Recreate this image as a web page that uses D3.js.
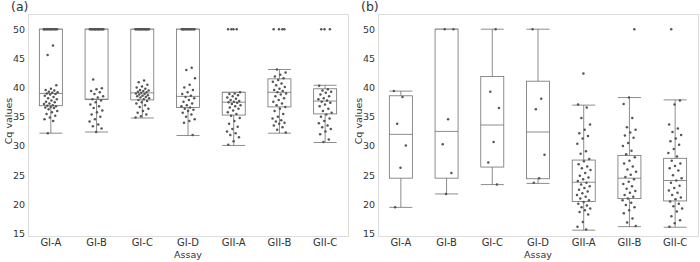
<!DOCTYPE html>
<html lang="en">
<head>
    <meta charset="UTF-8">
    <title>Cq values by assay</title>
    <script src="https://d3js.org/d3.v7.min.js"></script>
    <style>
        body { margin: 0; background: #fff; }
        svg { display: block; font-family: "DejaVu Sans", Verdana, sans-serif; }
    </style>
</head>
<body>
<script>
    var assays = ["GI-A", "GI-B", "GI-C", "GI-D", "GII-A", "GII-B", "GII-C"]
    var yTicks = [15, 20, 25, 30, 35, 40, 45, 50]

    // box stats for panel (a): [lower whisker, q1, median, q3, upper whisker]
    var statsA = [
        [32.2, 36.9, 39.0, 50, 50],
        [32.4, 38.0, 38.0, 50, 50],
        [34.8, 37.9, 39.1, 50, 50],
        [31.8, 36.6, 38.5, 50, 50],
        [30.1, 35.3, 37.5, 39.2, 39.2],
        [32.2, 36.7, 39.2, 41.5, 43.1],
        [30.6, 35.5, 37.7, 39.8, 40.4]
    ]
    // box stats for panel (b)
    var statsB = [
        [19.5, 24.5, 32.0, 38.6, 39.4],
        [21.8, 24.5, 32.5, 50, 50],
        [23.4, 26.4, 33.6, 41.9, 50],
        [23.6, 24.4, 32.4, 41.1, 50],
        [15.6, 20.5, 23.8, 27.6, 37.0],
        [16.2, 21.0, 24.5, 28.4, 38.3],
        [16.1, 20.6, 24.1, 27.9, 37.9]
    ]

    var ptsA_GIA = [50, 50, 50, 50, 50, 50, 50, 50, 50, 50, 50, 50, 50, 50, 47.2, 45.6, 40.4, 39.8, 39.6, 39.5, 39.3, 39.2, 39.1, 39.0, 38.9, 38.8, 38.6, 38.4, 38.2, 38.0, 37.8, 37.6, 37.5, 37.3, 37.2, 37.0, 36.9, 36.8, 36.7, 36.6, 36.5, 36.3, 36.0, 35.8, 35.5, 35.2, 34.9, 34.6, 34.3, 32.2]
    var ptsA_GIB = [50, 50, 50, 50, 50, 50, 50, 50, 50, 50, 50, 50, 50, 50, 50, 50, 41.4, 39.9, 39.7, 39.4, 39.2, 38.9, 38.5, 38.3, 38.0, 37.8, 37.5, 37.1, 36.8, 36.5, 36.1, 35.8, 35.4, 35.0, 34.6, 34.2, 33.7, 33.4, 33.0, 32.4]
    var ptsA_GIC = [50, 50, 50, 50, 50, 50, 50, 50, 50, 50, 50, 50, 50, 50, 50, 50, 41.2, 40.9, 40.5, 40.2, 40.0, 39.8, 39.6, 39.5, 39.4, 39.3, 39.2, 39.1, 39.0, 38.9, 38.8, 38.7, 38.6, 38.5, 38.4, 38.3, 38.2, 38.0, 37.9, 37.7, 37.5, 37.3, 37.0, 36.7, 36.4, 36.0, 35.7, 35.4, 35.1, 34.9]
    var ptsA_GID = [50, 50, 50, 50, 50, 50, 50, 50, 50, 50, 50, 50, 50, 50, 43.4, 43.0, 41.6, 40.5, 40.0, 39.6, 39.2, 38.9, 38.6, 38.4, 38.2, 37.9, 37.6, 37.3, 37.0, 36.8, 36.6, 36.4, 36.2, 36.0, 35.7, 35.4, 35.0, 34.6, 34.3, 34.0, 31.9]
    var ptsA_GIIA = [50, 50, 50, 50, 39.2, 39.0, 38.9, 38.7, 38.5, 38.3, 38.1, 37.9, 37.7, 37.6, 37.5, 37.4, 37.2, 37.0, 36.8, 36.6, 36.4, 36.1, 35.8, 35.5, 35.2, 34.8, 34.3, 33.8, 33.3, 32.9, 32.5, 32.2, 31.9, 31.5, 30.8, 30.2]
    var ptsA_GIIB = [50, 50, 50, 50, 43.1, 42.6, 42.2, 41.9, 41.6, 41.3, 41.0, 40.7, 40.4, 40.1, 39.8, 39.6, 39.4, 39.2, 39.0, 38.8, 38.5, 38.2, 37.9, 37.6, 37.3, 37.0, 36.7, 36.4, 36.0, 35.5, 35.0, 34.7, 34.4, 34.2, 34.0, 33.8, 33.5, 33.2, 32.8, 32.3]
    var ptsA_GIIC = [50, 50, 50, 40.3, 39.7, 39.5, 39.3, 39.1, 38.8, 38.5, 38.2, 38.0, 37.8, 37.6, 37.4, 37.1, 36.8, 36.4, 36.0, 35.7, 35.4, 35.0, 34.7, 34.3, 33.9, 33.5, 33.2, 32.9, 32.5, 32.0, 31.1, 30.7]

    var ptsB_GIA = [39.4, 38.4, 33.8, 30.1, 26.3, 19.5]
    var ptsB_GIB = [50, 50, 34.6, 30.3, 25.4, 21.8]
    var ptsB_GIC = [50, 39.3, 36.5, 30.7, 27.2, 23.4]
    var ptsB_GID = [50, 38.1, 36.3, 28.5, 24.5, 23.7]
    var ptsB_GIIA = [42.4, 37.1, 36.6, 34.8, 33.7, 32.8, 32.2, 31.7, 31.3, 30.4, 29.1, 28.7, 27.8, 27.4, 26.9, 26.5, 26.2, 25.9, 25.4, 24.9, 24.6, 24.3, 24.0, 23.7, 23.4, 23.1, 22.8, 22.5, 22.2, 21.9, 21.6, 21.3, 21.0, 20.7, 20.4, 20.1, 19.8, 19.5, 19.3, 19.0, 18.7, 18.3, 17.0, 16.2, 15.7]
    var ptsB_GIIB = [50, 38.3, 37.2, 34.8, 33.2, 32.8, 32.3, 31.8, 31.4, 30.5, 30.0, 29.2, 28.6, 28.1, 27.5, 27.0, 26.5, 26.0, 25.6, 25.1, 24.7, 24.3, 23.9, 23.5, 23.1, 22.7, 22.3, 22.0, 21.6, 21.3, 21.0, 20.7, 20.3, 19.9, 19.5, 19.0, 18.5, 17.6, 16.9, 16.3]
    var ptsB_GIIC = [50, 37.8, 37.1, 33.7, 33.0, 32.4, 31.9, 31.3, 30.8, 30.2, 29.5, 28.8, 28.2, 27.5, 27.0, 26.6, 26.2, 25.8, 25.0, 24.5, 24.1, 23.7, 23.2, 22.8, 22.4, 22.0, 21.6, 21.2, 20.9, 20.5, 20.1, 19.7, 19.3, 18.8, 18.0, 17.3, 16.8, 16.2]

    var pointsA = [ptsA_GIA, ptsA_GIB, ptsA_GIC, ptsA_GID, ptsA_GIIA, ptsA_GIIB, ptsA_GIIC]
    var pointsB = [ptsB_GIA, ptsB_GIB, ptsB_GIC, ptsB_GID, ptsB_GIIA, ptsB_GIIB, ptsB_GIIC]

    var width = 700, height = 262
    var svg = d3.select("body").append("svg")
        .attr("width", width)
        .attr("height", height)

    var frameColor = "#dcdcdc"
    var boxColor = "#707070"
    var dotColor = "#555555"
    var textColor = "#333333"

    function drawPanel(left, label, stats, points) {
        var right = left + 320
        var top = 14, bottom = 236

        var x = d3.scaleBand().domain(assays).range([left, right])
        var y = d3.scaleLinear().domain([14.6, 52.6]).range([bottom, top])

        var g = svg.append("g")

        g.append("rect")
            .attr("x", left + 0.5)
            .attr("y", top + 0.5)
            .attr("width", right - left)
            .attr("height", bottom - top)
            .attr("fill", "none")
            .attr("stroke", frameColor)

        // y tick labels
        g.selectAll(".ytick").data(yTicks).enter().append("text")
            .attr("x", left - 3)
            .attr("y", function (d) { return y(d) })
            .attr("dy", "0.35em")
            .attr("text-anchor", "end")
            .attr("font-size", "9.5px")
            .attr("fill", textColor)
            .text(function (d) { return d })

        // x tick labels
        g.selectAll(".xtick").data(assays).enter().append("text")
            .attr("x", function (d) { return x(d) + x.bandwidth() / 2 })
            .attr("y", 246)
            .attr("text-anchor", "middle")
            .attr("font-size", "10px")
            .attr("fill", textColor)
            .text(function (d) { return d })

        g.append("text")
            .attr("x", (left + right) / 2)
            .attr("y", 257.5)
            .attr("text-anchor", "middle")
            .attr("font-size", "9.5px")
            .attr("fill", textColor)
            .text("Assay")

        g.append("text")
            .attr("transform", "translate(" + (left - 16) + "," + ((top + bottom) / 2 - 4) + ") rotate(-90)")
            .attr("text-anchor", "middle")
            .attr("font-size", "9.5px")
            .attr("fill", textColor)
            .text("Cq values")

        g.append("text")
            .attr("x", left - 17)
            .attr("y", 11)
            .attr("font-size", "12.5px")
            .attr("fill", textColor)
            .text(label)

        var boxW = 23
        assays.forEach(function (a, i) {
            var cx = x(a) + x.bandwidth() / 2
            var s = stats[i]
            var bg = g.append("g")
                .attr("fill", "none")
                .attr("stroke", boxColor)
                .attr("stroke-width", 0.8)

            // whiskers
            bg.append("line")
                .attr("x1", cx).attr("x2", cx)
                .attr("y1", y(s[0])).attr("y2", y(s[1]))
            bg.append("line")
                .attr("x1", cx).attr("x2", cx)
                .attr("y1", y(s[3])).attr("y2", y(s[4]))
            bg.append("line")
                .attr("x1", cx - boxW / 2).attr("x2", cx + boxW / 2)
                .attr("y1", y(s[0])).attr("y2", y(s[0]))
            bg.append("line")
                .attr("x1", cx - boxW / 2).attr("x2", cx + boxW / 2)
                .attr("y1", y(s[4])).attr("y2", y(s[4]))

            bg.append("rect")
                .attr("x", cx - boxW / 2)
                .attr("y", y(s[3]))
                .attr("width", boxW)
                .attr("height", y(s[1]) - y(s[3]))
                .attr("fill", "#fff")
            bg.append("line")
                .attr("x1", cx - boxW / 2).attr("x2", cx + boxW / 2)
                .attr("y1", y(s[2])).attr("y2", y(s[2]))

            // jittered points (deterministic spread)
            var pts = points[i]
            g.selectAll(null).data(pts).enter().append("circle")
                .attr("cx", function (d, j) {
                    var f = (j * 0.618034 + i * 0.37) % 1
                    return cx + (f - 0.5) * 14
                })
                .attr("cy", function (d) { return y(d) })
                .attr("r", 1.25)
                .attr("fill", dotColor)
        })
    }

    drawPanel(28, "(a)", statsA, pointsA)
    drawPanel(378, "(b)", statsB, pointsB)
</script>
</body>
</html>
